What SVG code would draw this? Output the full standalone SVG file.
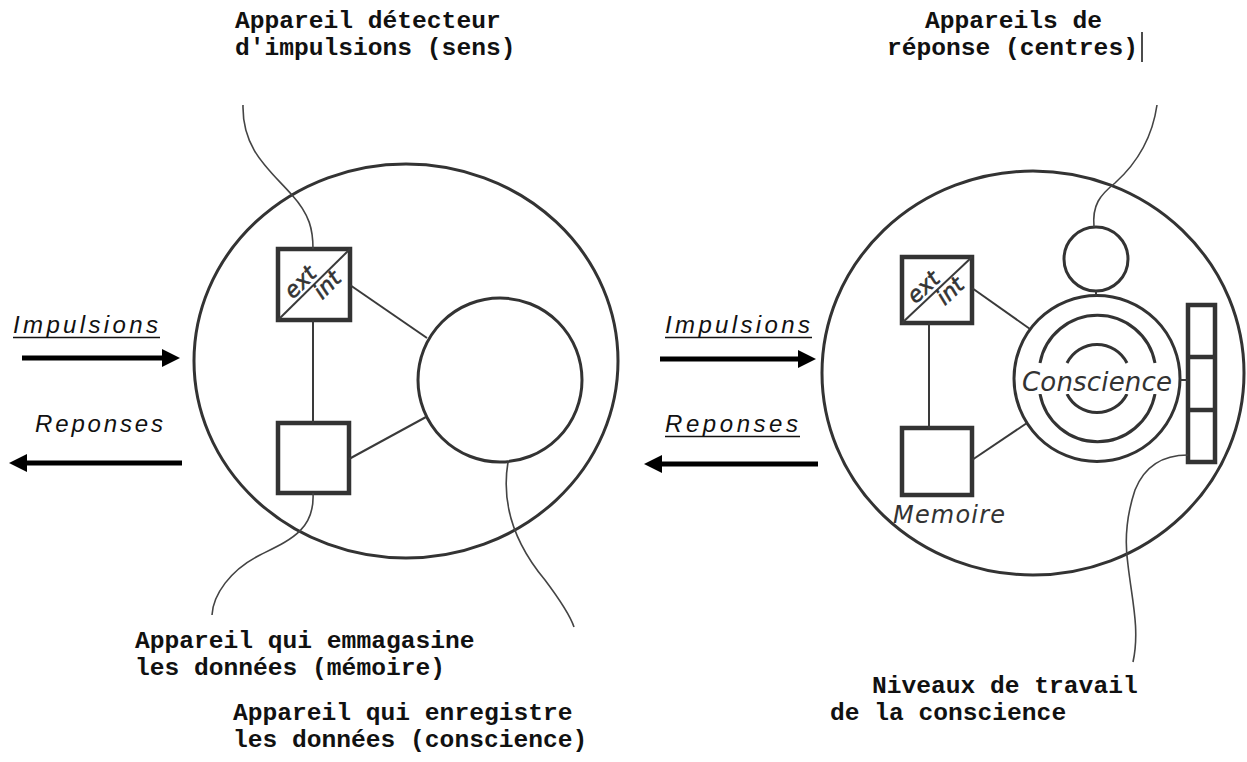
<svg xmlns="http://www.w3.org/2000/svg" width="1247" height="762" viewBox="0 0 1247 762">
  <style>
    .outer { fill: none; stroke: #333; stroke-width: 3; }
    .box { fill: none; stroke: #333; stroke-width: 4.5; }
    .ring { fill: none; stroke: #333; stroke-width: 3; }
    .link { fill: none; stroke: #3a3a3a; stroke-width: 2; }
    .wire { fill: none; stroke: #444; stroke-width: 1.6; }
    .arrow { fill: none; stroke: #000; stroke-width: 5; }
    .caption { font-family: "Liberation Mono", "Courier New", monospace; font-weight: bold; font-size: 24.6px; fill: #111; }
    .flow { font-family: "Liberation Sans", Arial, sans-serif; font-style: italic; font-size: 24px; fill: #111; }
    .hand { font-family: "DejaVu Sans", sans-serif; font-style: oblique; fill: #333; }
    .uline { stroke: #111; stroke-width: 1.5; }
  </style>
  <defs>
    <marker id="head" viewBox="0 0 18 18" refX="2" refY="9" markerWidth="18" markerHeight="18" markerUnits="userSpaceOnUse" orient="auto">
      <path d="M0,0 L18,9 L0,18 Z" fill="#000"/>
    </marker>
  </defs>

  <rect width="1247" height="762" fill="#fff"/>

  <!-- captions -->
  <g id="captions">
    <text class="caption" x="235" y="28">Appareil détecteur</text>
    <text class="caption" x="235" y="55">d'impulsions (sens)</text>
    <text class="caption" x="925" y="28">Appareils de</text>
    <text class="caption" x="887" y="55">réponse (centres)</text>
    <line x1="1142" y1="32" x2="1142" y2="62" stroke="#111" stroke-width="1.5"/>
    <text class="caption" x="135" y="648">Appareil qui emmagasine</text>
    <text class="caption" x="135" y="675">les données (mémoire)</text>
    <text class="caption" x="233" y="720">Appareil qui enregistre</text>
    <text class="caption" x="233" y="747">les données (conscience)</text>
    <text class="caption" x="872" y="693">Niveaux de travail</text>
    <text class="caption" x="830" y="720">de la conscience</text>
  </g>

  <!-- flow labels -->
  <g id="flow-labels">
    <text class="flow" x="13" y="333" textLength="145" lengthAdjust="spacing">Impulsions</text>
    <line class="uline" x1="13" y1="337.5" x2="160" y2="337.5"/>
    <text class="flow" x="35" y="432" textLength="128" lengthAdjust="spacing">Reponses</text>
    <text class="flow" x="665" y="333" textLength="145" lengthAdjust="spacing">Impulsions</text>
    <line class="uline" x1="665" y1="337.5" x2="812" y2="337.5"/>
    <text class="flow" x="665" y="432" textLength="133" lengthAdjust="spacing">Reponses</text>
    <line class="uline" x1="665" y1="436.5" x2="800" y2="436.5"/>
  </g>

  <!-- left unit: sense / memory / recording -->
  <g id="left-outer"><ellipse class="outer" cx="406" cy="361" rx="212" ry="197"/></g>
  <g id="left-sense">
    <rect class="box" x="278" y="249" width="72" height="71"/>
    <line class="link" x1="278" y1="320" x2="350" y2="249"/>
    <g transform="translate(314,284.5) rotate(-45)">
      <text class="hand" x="-8" y="-4" font-size="22" text-anchor="middle" stroke="#333" stroke-width="0.6">ext</text>
      <text class="hand" x="9" y="17" font-size="22" text-anchor="middle" stroke="#333" stroke-width="0.6">int</text>
    </g>
  </g>
  <g id="left-memory"><rect class="box" x="278" y="423" width="71" height="70"/></g>
  <g id="left-record"><circle class="ring" cx="500" cy="380" r="82"/></g>

  <!-- right unit: sense / memory / consciousness -->
  <g id="right-outer"><ellipse class="outer" cx="1033" cy="373" rx="211" ry="202"/></g>
  <g id="right-sense">
    <rect class="box" x="902" y="257" width="70" height="66"/>
    <line class="link" x1="902" y1="323" x2="972" y2="257"/>
    <g transform="translate(937,290) rotate(-43)">
      <text class="hand" x="-8" y="-4" font-size="22" text-anchor="middle" stroke="#333" stroke-width="0.6">ext</text>
      <text class="hand" x="9" y="17" font-size="22" text-anchor="middle" stroke="#333" stroke-width="0.6">int</text>
    </g>
  </g>
  <g id="right-memory">
    <rect class="box" x="902" y="428" width="70" height="67"/>
    <text class="hand" x="893" y="523" font-size="24" textLength="112" lengthAdjust="spacing">Memoire</text>
  </g>
  <g id="right-center">
    <circle class="ring" cx="1096" cy="259" r="32"/>
  </g>
  <g id="right-conscience">
    <circle class="ring" cx="1097" cy="378.5" r="83"/>
    <path class="ring" d="M1040,363 A58.5,58.5 0 0 1 1155,363"/>
    <path class="ring" d="M1040,394 A58.5,58.5 0 0 0 1155,394"/>
    <path class="ring" d="M1067,363 A33.5,33.5 0 0 1 1127,363"/>
    <path class="ring" d="M1067,394 A33.5,33.5 0 0 0 1127,394"/>
    <rect x="1022" y="368" width="150" height="26" fill="#fff"/>
    <text class="hand" x="1022" y="391" font-size="26" textLength="150" lengthAdjust="spacing">Conscience</text>
  </g>
  <g id="right-levels">
    <rect class="box" x="1188" y="305" width="27" height="157"/>
    <line class="box" x1="1188" y1="357" x2="1215" y2="357"/>
    <line class="box" x1="1188" y1="410" x2="1215" y2="410"/>
  </g>

  <!-- connectors -->
  <g id="connectors">
    <line class="arrow" x1="22" y1="358" x2="164" y2="358" marker-end="url(#head)"/>
    <line class="arrow" x1="182" y1="463" x2="25" y2="463" marker-end="url(#head)"/>
    <line class="arrow" x1="660" y1="359" x2="800" y2="359" marker-end="url(#head)"/>
    <line class="arrow" x1="818" y1="464" x2="660" y2="464" marker-end="url(#head)"/>

    <line class="link" x1="313" y1="320" x2="313" y2="423"/>
    <line class="link" x1="350" y1="285" x2="427" y2="338"/>
    <line class="link" x1="349" y1="459" x2="426" y2="417"/>
    <path class="wire" d="M243,105 C242,150 270,170 292,195 C310,215 313,230 313,249"/>
    <path class="wire" d="M313,493 C315,530 290,540 260,555 C230,570 213,595 212,615"/>
    <path class="wire" d="M508,462 C500,510 520,550 545,580 C560,600 570,615 574,627"/>

    <line class="link" x1="929" y1="323" x2="929" y2="428"/>
    <line class="link" x1="972" y1="288" x2="1030" y2="329"/>
    <line class="link" x1="972" y1="460" x2="1027" y2="423"/>
    <line class="link" x1="1096" y1="291" x2="1096" y2="296"/>
    <line class="link" x1="1180" y1="380" x2="1188" y2="380"/>
    <path class="wire" d="M1094,227 C1092,205 1100,195 1115,183 C1135,165 1152,140 1157,105"/>
    <path class="wire" d="M1188,455 C1165,455 1145,465 1135,490 C1125,520 1125,545 1128,565 C1132,600 1140,630 1133,662"/>
  </g>
</svg>
